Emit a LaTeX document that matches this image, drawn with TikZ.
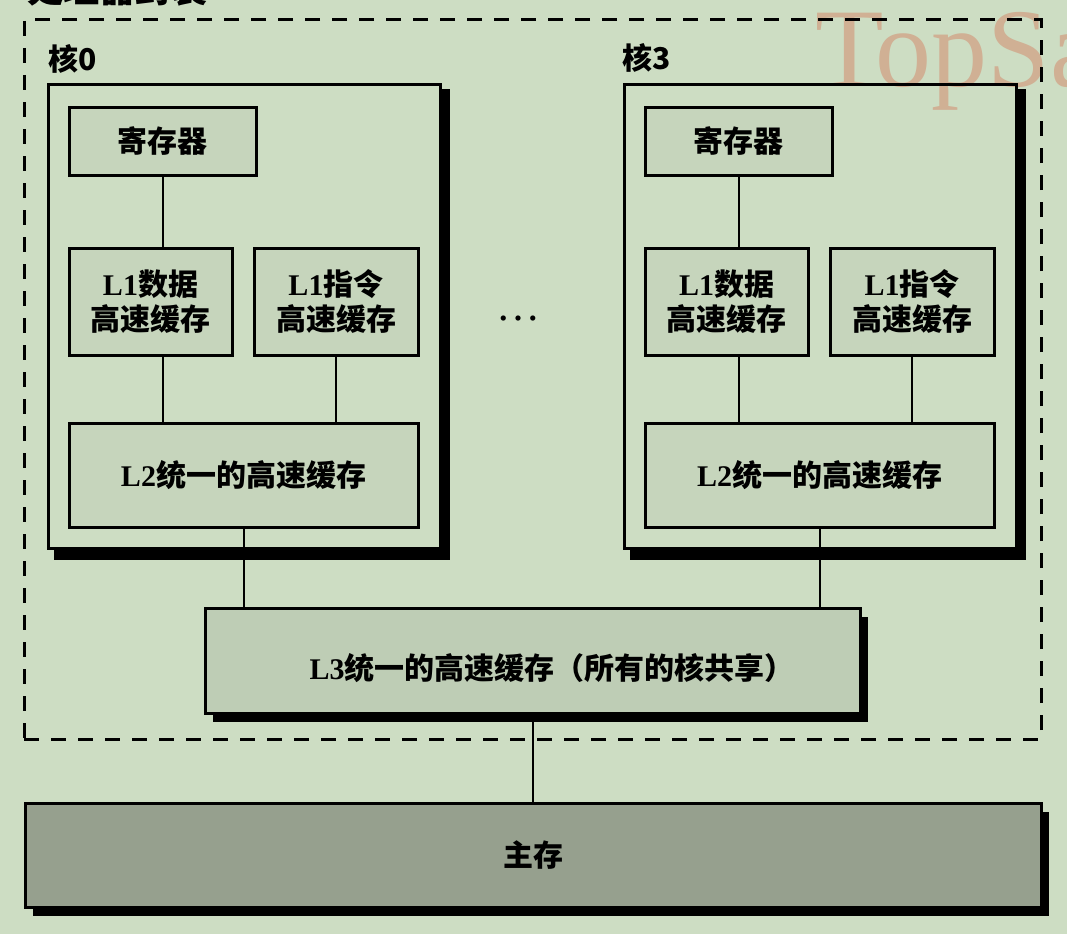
\documentclass[tikz,border=0pt]{standalone}
\usepackage{fontspec}
\setmainfont{Liberation Serif}
\newfontfamily\cjk{Noto Sans CJK SC}
\usetikzlibrary{calc,shadows}
\definecolor{bgc}{RGB}{205,221,195}
\definecolor{cachefill}{RGB}{198,213,188}
\definecolor{lthreefill}{RGB}{190,205,181}
\definecolor{memfill}{RGB}{150,160,142}
\definecolor{wmc}{RGB}{208,176,148}
\newcommand\zh[1]{{\cjk\bfseries #1}}
\tikzset{
  cachebox/.style={draw=black, line width=3pt, fill=cachefill, inner sep=0pt,
    font=\fontsize{30pt}{35pt}\selectfont\bfseries, align=center},
  corebox/.style={draw=black, line width=3pt, inner sep=0pt},
  shadebox/.style={cachebox, drop shadow={shadow xshift=8pt, shadow yshift=-9pt, fill=black, opacity=1}},
  link/.style={draw=black, line width=2pt},
  pkgbox/.style={draw=black, line width=3pt, dash pattern=on 15pt off 12pt, inner sep=0pt},
  lbl/.style={font=\fontsize{30pt}{35pt}\selectfont\bfseries, inner sep=0pt},
}
\begin{document}
\begin{tikzpicture}[x=1pt, y=-1pt, line join=miter]
\useasboundingbox (0,0) rectangle (1067,934);
\fill[bgc] (0,0) rectangle (1067,934);
% watermark
\node[font=\fontsize{112pt}{112pt}\selectfont, text=wmc, anchor=base west, inner sep=0pt] (wm) at (815,86) {TopSa};
% title (cut at top)
\node[lbl, font=\fontsize{36pt}{40pt}\selectfont, anchor=south west] (title) at (27,6) {\zh{处理器封装}};
% package
\node[pkgbox, minimum width=1017pt, minimum height=719pt] (pkg) at (532.5,379.5) {};
% core labels
\node[lbl, anchor=west] (k0) at (48,59) {\zh{核0}};
\node[lbl, anchor=west] (k3) at (622,58) {\zh{核3}};
% core 0
\node[corebox, minimum width=392pt, minimum height=464pt] (c0) at (244,316) {};
\node[cachebox, minimum width=187pt, minimum height=68pt] (r0) at (162.5,141) {\zh{寄存器}};
\node[cachebox, minimum width=163pt, minimum height=107pt] (d0) at (150.5,301.5) {L1\zh{数据}\\\zh{高速缓存}};
\node[cachebox, minimum width=164pt, minimum height=107pt] (i0) at (336,301.5) {L1\zh{指令}\\\zh{高速缓存}};
\node[cachebox, minimum width=349pt, minimum height=104pt] (u0) at (243.5,475) {L2\zh{统一的高速缓存}};
% core 3
\node[corebox, minimum width=392pt, minimum height=464pt] (c3) at (820,316) {};
\node[cachebox, minimum width=187pt, minimum height=68pt] (r3) at (738.5,141) {\zh{寄存器}};
\node[cachebox, minimum width=163pt, minimum height=107pt] (d3) at (726.5,301.5) {L1\zh{数据}\\\zh{高速缓存}};
\node[cachebox, minimum width=164pt, minimum height=107pt] (i3) at (912,301.5) {L1\zh{指令}\\\zh{高速缓存}};
\node[cachebox, minimum width=349pt, minimum height=104pt] (u3) at (819.5,475) {L2\zh{统一的高速缓存}};
% core shadows
\fill[black] ($(c0.north east)+(0,6)$) rectangle ($(c0.south east)+(8,10)$);
\fill[black] ($(c0.south west)+(7,0)$) rectangle ($(c0.south east)+(8,10)$);
\fill[black] ($(c3.north east)+(0,6)$) rectangle ($(c3.south east)+(8,10)$);
\fill[black] ($(c3.south west)+(7,0)$) rectangle ($(c3.south east)+(8,10)$);
% dots
\node[font=\fontsize{44pt}{44pt}\selectfont, anchor=base, inner sep=0pt] (dots) at (518,320) {…};
% L3
\node[shadebox, fill=lthreefill, minimum width=655pt, minimum height=105pt] (l3) at (532.5,660.5) {};
\node[lbl] (l3t) at (552,668) {L3\zh{统一的高速缓存（所有的核共享）}};
% main memory
\node[shadebox, fill=memfill, minimum width=1016pt, minimum height=104pt] (mem) at (533,855) {\zh{主存}};
% connectors
\draw[link] (r0.south) -- (r0.south |- d0.north);
\draw[link] (r0.south |- d0.south) -- (r0.south |- u0.north);
\draw[link] (i0.south) -- (i0.south |- u0.north);
\draw[link] (r3.south) -- (r3.south |- d3.north);
\draw[link] (r3.south |- d3.south) -- (r3.south |- u3.north);
\draw[link] (i3.south) -- (i3.south |- u3.north);
\draw[link] (u0.south) -- (u0.south |- l3.north);
\draw[link] (u3.south) -- (u3.south |- l3.north);
\draw[link] (l3.south) -- (l3.south |- mem.north);
\end{tikzpicture}
\end{document}
